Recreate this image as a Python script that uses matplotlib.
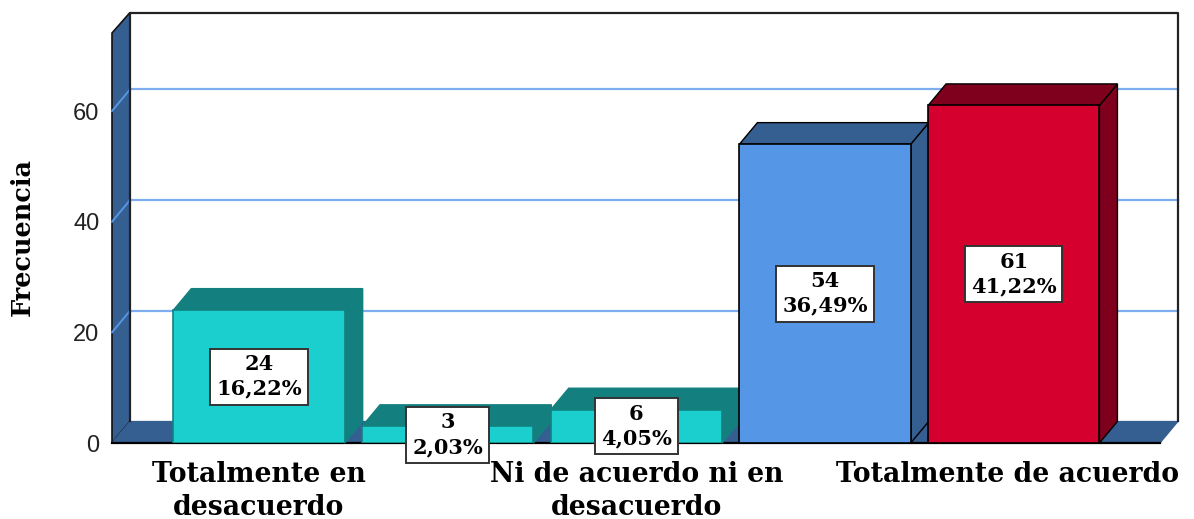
#!/usr/bin/env python3
# barras 3D falsas: frente con ax.bar, lados y techo con Polygon
import matplotlib
matplotlib.use("Agg")
import matplotlib.pyplot as plt
from matplotlib.patches import Polygon
from matplotlib.transforms import ScaledTranslation

categorias = ["Totalmente en\ndesacuerdo", "En desacuerdo", "Ni de acuerdo ni en\ndesacuerdo",
              "De acuerdo", "Totalmente de acuerdo"]
frecuencias = [24, 3, 6, 54, 61]
porcentajes = ["16,22%", "2,03%", "4,05%", "36,49%", "41,22%"]
ticks_y = [0, 20, 40, 60]
ticks_x = [0, 2, 4]

color_frente = ["#1BCFCF", "#1BCFCF", "#1BCFCF", "#5596E6", "#D5002D"]
color_lado = ["#147F7F", "#147F7F", "#147F7F", "#355E91", "#7E001C"]
color_borde = ["#138080", "#138080", "#138080", "#000000", "#000000"]
pared = "#355E91"
rejilla = "#7EAEF0"

W, H = 1194, 519
fig = plt.figure(figsize=(W/100, H/100), dpi=100)
ax = fig.add_axes([112/W, (H-443)/H, (1160-112)/W, (443-33)/H])
x0, x1 = -0.779, 4.775
y1 = 74.1
ax.set_xlim(x0, x1); ax.set_ylim(0, y1)
dx, dy = 18/188.7, 3.9   # profundidad en unidades de datos
ancho = 0.908
for s in ax.spines.values():
    s.set_visible(False)
ax.patch.set_visible(False)

# paredes
ax.add_patch(Polygon([(x0, 0), (x0+dx, dy), (x0+dx, y1+dy-0.2), (x0, y1)], closed=True,
                     fc=pared, ec="#111111", lw=1.2, clip_on=False, zorder=1))
ax.add_patch(Polygon([(x0, 0), (x0+dx, dy), (x1+dx, dy), (x1, 0)], closed=True,
                     fc=pared, ec=pared, lw=0.8, clip_on=False, zorder=1))
ax.plot([x0+dx, x0+dx, x1+dx, x1+dx], [dy, y1+dy-0.2, y1+dy-0.2, dy], color="#222222", lw=1.6,
        clip_on=False, zorder=1.5)
ax.plot([x0, x1], [0, 0], color="#000000", lw=1.6, clip_on=False, zorder=2)
for t in ticks_y[1:]:
    ax.plot([x0+dx, x1+dx], [t+dy, t+dy], color=rejilla, lw=1.6, clip_on=False, zorder=1.2)
    ax.plot([x0, x0+dx], [t, t+dy], color="#5596E6", lw=1.4, clip_on=False, zorder=1.2)

# barras
for i, v in enumerate(frecuencias):
    z = 3 + i
    l, r = i-ancho/2, i+ancho/2
    ax.add_patch(Polygon([(r, 0), (r+dx, dy), (r+dx, v+dy), (r, v)], closed=True,
                         fc=color_lado[i], ec=color_borde[i], lw=1.0, clip_on=False, zorder=z))
    ax.add_patch(Polygon([(l, v), (l+dx, v+dy), (r+dx, v+dy), (r, v)], closed=True,
                         fc=color_lado[i], ec=color_borde[i], lw=1.0, clip_on=False, zorder=z))
    ax.bar(i, v, width=ancho, color=color_frente[i], edgecolor=color_borde[i], lw=1.2, zorder=z+0.1)
    ax.text(i, v/2, f"{v}\n{porcentajes[i]}", ha="center", va="center", family="DejaVu Serif",
            fontweight="bold", fontsize=15, linespacing=1.28, color="#000000", zorder=20,
            bbox=dict(boxstyle="square,pad=0.28", fc="white", ec="#333333", lw=1.4))

ax.set_yticks(ticks_y)
ax.set_yticklabels([str(t) for t in ticks_y], family="Liberation Sans", fontsize=17, color="#222222")
ax.set_xticks(ticks_x)
ax.set_xticklabels([categorias[i] for i in ticks_x], family="DejaVu Serif", fontweight="bold",
                   fontsize=19.2, linespacing=1.26, color="#000000")
ax.tick_params(axis="y", length=0, pad=9)
ax.tick_params(axis="x", length=0, pad=13)
# la ultima etiqueta va un poco a la izquierda
ult = ax.get_xticklabels()[-1]
ult.set_transform(ult.get_transform() + ScaledTranslation(-6/100, 0, fig.dpi_scale_trans))
fig.text(22/W, 1-237/H, "Frecuencia", rotation=90, ha="center", va="center",
         family="DejaVu Serif", fontweight="bold", fontsize=18.4, color="#000000")

fig.savefig("out.png", dpi=100)
